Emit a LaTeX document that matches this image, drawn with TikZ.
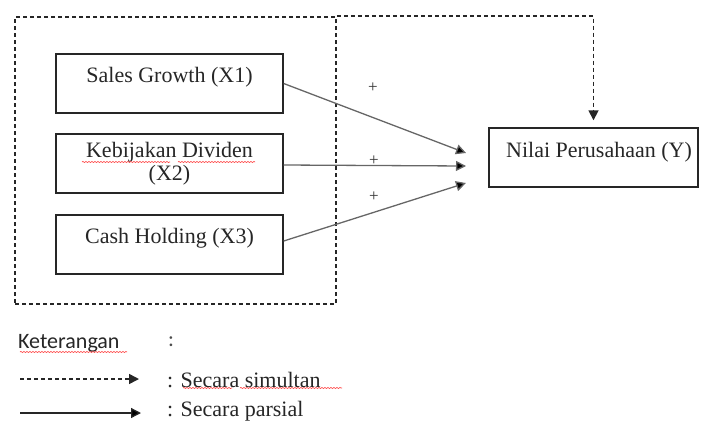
\documentclass[tikz,border=0pt]{standalone}
\usepackage{fontspec}
\setmainfont{Liberation Serif}
\newfontfamily\tnr{Liberation Serif}
\newfontfamily\calib{Carlito}
\usetikzlibrary{arrows.meta,decorations.pathmorphing,calc}
\begin{document}
\begin{tikzpicture}[x=1pt,y=-1pt,
  box/.style={draw=black!85, line width=1.4pt, minimum width=227pt, minimum height=59pt, inner sep=0pt},
  lbl/.style={inner sep=0pt, font=\tnr\fontsize{22}{25}\selectfont, text=black!85},
  plus/.style={inner sep=0pt, font=\tnr\fontsize{17}{17}\selectfont, text=black!80},
  grpbox/.style={draw=black!85, line width=1.6pt, dash pattern=on 4pt off 3pt, minimum width=321pt, minimum height=287pt, inner sep=0pt},
  simul/.style={draw=black!85, line width=1.6pt, dash pattern=on 4pt off 3pt, -{Triangle[length=10pt,width=10pt]}},
  parsial/.style={draw=black!60, line width=1.3pt, -{Triangle[length=10pt,width=10pt,fill=black]}},
  wavy/.style={draw=red!75, line width=0.6pt, decorate, decoration={snake, amplitude=0.6pt, segment length=3pt}}
]
\useasboundingbox (0,0) rectangle (703,421);

% group box
\node[grpbox] (grp) at (175.5,160.5) {};

% boxes
\node[box] (x1) at (169.5,83.5) {};
\node[box] (x2) at (169.5,163.5) {};
\node[box] (x3) at (169.5,244.5) {};
\node[box, minimum width=209pt] (y) at (593.5,157.5) {};

\node[lbl] (x1t) at (169.5,77) {Sales Growth (X1)};
\node[lbl] (x2t) at (169.5,152) {Kebijakan Dividen};
\node[lbl] (x2u) at (169.5,175) {(X2)};
\node[lbl] (x3t) at (169.5,238) {Cash Holding (X3)};
\node[lbl] (yt) at (599,152) {Nilai Perusahaan (Y)};

% simultaneous arrow
\draw[simul, shorten >=7pt] (grp.north east) -| (y.north);

% partial arrows
\coordinate (t1) at (466,153);
\coordinate (t2) at (466,166);
\coordinate (t3) at (466,183);
\draw[parsial] (x1.east) -- (t1);
\draw[parsial] ([yshift=-1.5pt]x2.east) -- (t2);
\draw[parsial] ([yshift=3.5pt]x3.east) -- (t3);

\node[plus] (p1) at (373,88) {+};
\node[plus] (p2) at (374,161) {+};
\node[plus] (p3) at (374,197) {+};

% legend
\node[anchor=west, inner sep=0pt, font=\calib\fontsize{22}{25}\selectfont, text=black!85] (ket) at (18,343) {Keterangan};
\node[inner sep=0pt, font=\calib\fontsize{22}{25}\selectfont, text=black!70] (col) at (171,342) {:};
\coordinate (ls1) at (20,379);
\coordinate (le1) at (139,379);
\draw[simul] (ls1) -- (le1);
\node[anchor=west, lbl] (sim) at (167,380) {: Secara simultan};
\coordinate (ls2) at (20,413);
\coordinate (le2) at (141,413);
\draw[parsial, draw=black!85] (ls2) -- (le2);
\node[anchor=west, lbl] (par) at (167,411) {: Secara parsial};

% spell-check underlines
\draw[wavy] (82,162) -- (170,162);
\draw[wavy] (178,162) -- (255,162);
\draw[wavy] (20,352) -- (127,352);
\draw[wavy] (183,388) -- (232,388);
\draw[wavy] (240,388) -- (342,388);
\end{tikzpicture}
\end{document}
